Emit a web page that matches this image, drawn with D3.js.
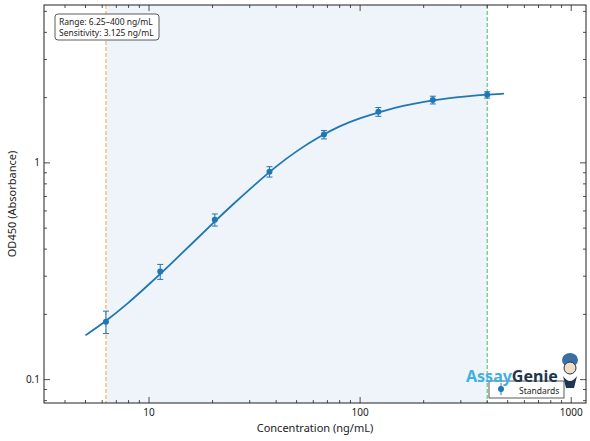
<!DOCTYPE html>
<html><head><meta charset="utf-8">
<script src="https://cdn.jsdelivr.net/npm/d3@7"></script>
<style>body{margin:0;background:#fff}text{font-family:"Noto Sans",sans-serif}</style>
</head><body><svg id="c" width="590" height="441"></svg>
<script>
const concs = [6.25, 11.3, 20.5, 37.2, 67.4, 122, 221, 400]
const ods = [0.185, 0.315, 0.546, 0.91, 1.35, 1.72, 1.95, 2.06]
const errs = [0.022, 0.025, 0.035, 0.05, 0.06, 0.08, 0.08, 0.07]
const curveX = [5, 6.25, 8, 10, 12.5, 16, 20, 25, 32, 40, 50, 64, 80, 100, 128, 160, 200, 256, 320, 400, 480]
const curveY = [0.16, 0.186, 0.226, 0.275, 0.337, 0.425, 0.525, 0.645, 0.80, 0.965, 1.135, 1.32, 1.48, 1.61, 1.735, 1.835, 1.915, 1.985, 2.03, 2.065, 2.085]
const rangeLo = 6.25, rangeHi = 400

const svg = d3.select('#c')
const L = 44, R = 586, T = 5, B = 403
const x = d3.scaleLog().domain([3.18, 1175]).range([L, R])
const y = d3.scaleLog().domain([0.078, 5.35]).range([B, T])
const blue = '#1f77b4'

svg.append('rect').attr('x', x(rangeLo)).attr('y', T).attr('width', x(rangeHi) - x(rangeLo))
  .attr('height', B - T).attr('fill', '#eef4f9')
svg.append('line').attr('x1', x(rangeLo)).attr('x2', x(rangeLo)).attr('y1', T).attr('y2', B)
  .attr('stroke', '#ff9f3f').attr('stroke-dasharray', '4,2').attr('stroke-width', 1)
svg.append('line').attr('x1', x(rangeHi)).attr('x2', x(rangeHi)).attr('y1', T).attr('y2', B)
  .attr('stroke', '#4cbb5c').attr('stroke-dasharray', '4,2').attr('stroke-width', 1)

// ticks (inside)
const xMajor = [10, 100, 1000]
const xMinor = []
for (const d of [1, 10, 100]) for (let k = 2; k <= 9; k++) { const v = d * k; if (v > 3.18 && v < 1175) xMinor.push(v) }
const yMajor = [0.1, 1]
const yMinor = []
for (const d of [0.01, 0.1, 1]) for (let k = 2; k <= 9; k++) { const v = d * k; if (v > 0.078 && v < 5.35) yMinor.push(v) }
const tk = svg.append('g').attr('stroke', '#222').attr('stroke-width', 0.8)
xMajor.forEach(v => { tk.append('line').attr('x1', x(v)).attr('x2', x(v)).attr('y1', B).attr('y2', B - 6)
  tk.append('line').attr('x1', x(v)).attr('x2', x(v)).attr('y1', T).attr('y2', T + 6) })
xMinor.forEach(v => { tk.append('line').attr('x1', x(v)).attr('x2', x(v)).attr('y1', B).attr('y2', B - 3)
  tk.append('line').attr('x1', x(v)).attr('x2', x(v)).attr('y1', T).attr('y2', T + 3) })
yMajor.forEach(v => { tk.append('line').attr('x1', L).attr('x2', L + 6).attr('y1', y(v)).attr('y2', y(v))
  tk.append('line').attr('x1', R).attr('x2', R - 6).attr('y1', y(v)).attr('y2', y(v)) })
yMinor.forEach(v => { tk.append('line').attr('x1', L).attr('x2', L + 3).attr('y1', y(v)).attr('y2', y(v))
  tk.append('line').attr('x1', R).attr('x2', R - 3).attr('y1', y(v)).attr('y2', y(v)) })

svg.selectAll('.xl').data(xMajor).enter().append('text').attr('x', d => x(d)).attr('y', B + 13)
  .attr('text-anchor', 'middle').attr('font-size', 10).attr('fill', '#222').text(d => d)
svg.selectAll('.yl').data(yMajor).enter().append('text').attr('x', L - 4).attr('y', d => y(d) + 3.5)
  .attr('text-anchor', 'end').attr('font-size', 10).attr('fill', '#222').text(d => d)
svg.append('text').attr('x', (L + R) / 2).attr('y', 432).attr('text-anchor', 'middle')
  .attr('font-size', 11).attr('fill', '#222').text('Concentration (ng/mL)')
svg.append('text').attr('transform', `translate(16,${(T + B) / 2}) rotate(-90)`).attr('text-anchor', 'middle')
  .attr('font-size', 11).attr('fill', '#222').text('OD450 (Absorbance)')

// curve
svg.append('path').datum(curveX.map((v, i) => [v, curveY[i]]))
  .attr('d', d3.line().x(d => x(d[0])).y(d => y(d[1])).curve(d3.curveBasis))
  .attr('fill', 'none').attr('stroke', blue).attr('stroke-width', 1.8)

// error bars + points
const eb = svg.append('g').attr('stroke', blue).attr('stroke-width', 1)
concs.forEach((c, i) => {
  const cx = x(c), y0 = y(ods[i] - errs[i]), y1 = y(ods[i] + errs[i])
  eb.append('line').attr('x1', cx).attr('x2', cx).attr('y1', y0).attr('y2', y1)
  eb.append('line').attr('x1', cx - 3).attr('x2', cx + 3).attr('y1', y0).attr('y2', y0)
  eb.append('line').attr('x1', cx - 3).attr('x2', cx + 3).attr('y1', y1).attr('y2', y1)
})
svg.selectAll('.pt').data(concs).enter().append('circle').attr('cx', d => x(d))
  .attr('cy', (d, i) => y(ods[i])).attr('r', 3).attr('fill', blue)

// frame
svg.append('rect').attr('x', L).attr('y', T).attr('width', R - L).attr('height', B - T)
  .attr('fill', 'none').attr('stroke', '#222').attr('stroke-width', 1)

// annotation box
svg.append('rect').attr('x', 55).attr('y', 14).attr('width', 104).attr('height', 26).attr('rx', 3)
  .attr('fill', '#fff').attr('stroke', '#333').attr('stroke-width', 0.8)
svg.append('text').attr('x', 59).attr('y', 25).attr('font-size', 8.5).attr('fill', '#222').text('Range: 6.25–400 ng/mL')
svg.append('text').attr('x', 59).attr('y', 36).attr('font-size', 8.5).attr('fill', '#222').text('Sensitivity: 3.125 ng/mL')

// legend
svg.append('rect').attr('x', 489).attr('y', 381).attr('width', 75).attr('height', 17)
  .attr('fill', '#fff').attr('stroke', '#333').attr('stroke-width', 0.8)
svg.append('line').attr('x1', 501).attr('x2', 501).attr('y1', 383).attr('y2', 395).attr('stroke', blue)
svg.append('circle').attr('cx', 501).attr('cy', 389).attr('r', 3).attr('fill', blue)
svg.append('text').attr('x', 519).attr('y', 394).attr('font-size', 8.5).attr('fill', '#222').text('Standards')

// watermark
const wm = svg.append('text').attr('x', 466).attr('y', 382).attr('font-size', 16).attr('font-weight', 'bold')
wm.append('tspan').attr('fill', '#3eb0e6').text('Assay')
wm.append('tspan').attr('fill', '#1e3650').text('Genie')
const g = svg.append('g').attr('transform', 'translate(570,366)')
g.append('ellipse').attr('rx', 8).attr('ry', 7).attr('cy', -6).attr('fill', '#3a6ea5')
g.append('circle').attr('r', 6).attr('cy', 2).attr('fill', '#f3dcc4').attr('stroke', '#1e3650')
g.append('path').attr('d', 'M-7,10 Q0,20 7,10 L4,22 L-4,22 Z').attr('fill', '#1e3650')
</script></body></html>
